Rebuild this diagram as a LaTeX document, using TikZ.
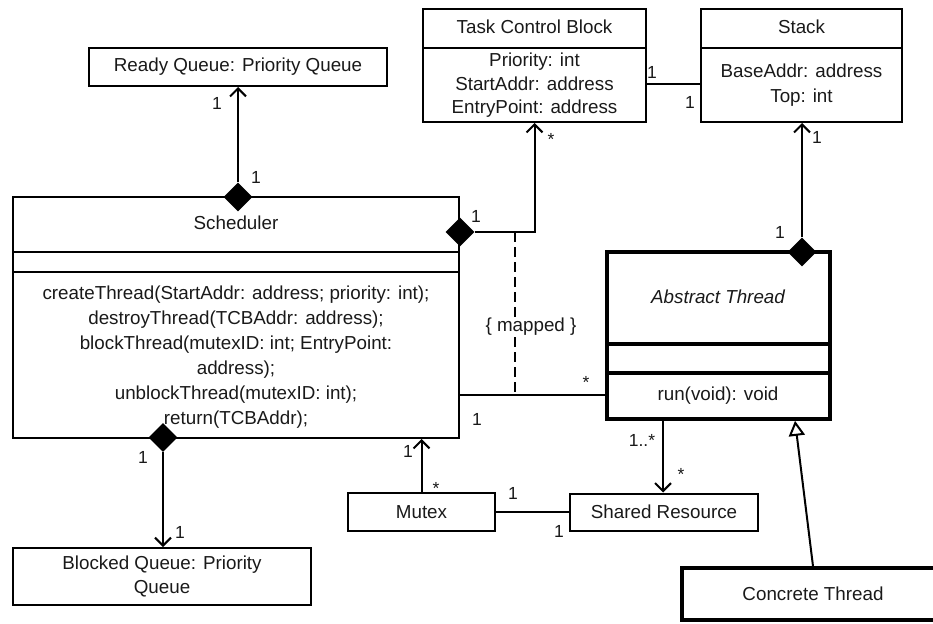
\documentclass[tikz,border=0pt]{standalone}
\usepackage{fontspec}
\setmainfont{Liberation Sans}
\usetikzlibrary{arrows.meta,shapes.geometric,calc}
\begin{document}
\begin{tikzpicture}[x=1pt,y=-1pt,
  every node/.style={text=black!90, font={\fontsize{18.8}{24.9}\selectfont}},
  cls/.style={draw=black, line width=2pt, rectangle, inner sep=0pt},
  thk/.style={line width=3.6pt},
  txt/.style={inner sep=0pt, align=center},
  lbl/.style={inner sep=0pt, font={\fontsize{17.5}{20}\selectfont}},
  dmd/.style={diamond, fill=black, draw=none, inner sep=0pt, minimum width=29pt, minimum height=29pt},
  assoc/.style={line width=2pt, draw=black},
  nav/.style={assoc, -{Straight Barb[length=8pt,width=16pt]}},
  gen/.style={assoc, -{Triangle[open,length=15pt,width=16pt,fill=white]}},
  dep/.style={line width=1.8pt, draw=black, dash pattern=on 10pt off 5pt}
]
\useasboundingbox (0,0) rectangle (933,623);

% helper coordinates
\path (0,252) coordinate (s1) (0,272) coordinate (s2)
      (0,344) coordinate (a1) (0,373) coordinate (a2)
      (0,48) coordinate (t1) (0,84) coordinate (t2)
      (0,395) coordinate (h1)
      (663,0) coordinate (v1) (795,0) coordinate (v2);

% Ready queue
\node[cls, minimum width=298pt, minimum height=38pt] (rq) at (238,67) {Ready Queue: Priority Queue};

% Scheduler
\node[cls, minimum width=446pt, minimum height=241pt] (sch) at (236,317.5) {};
\draw[assoc] (sch.west |- s1) -- (sch.east |- s1);
\draw[assoc] (sch.west |- s2) -- (sch.east |- s2);
\node[txt] (schT) at (236,223) {Scheduler};
\node[txt] (schM) at (236,357) {createThread(StartAddr: address; priority: int);\\
destroyThread(TCBAddr: address);\\
blockThread(mutexID: int; EntryPoint:\\
address);\\
unblockThread(mutexID: int);\\
return(TCBAddr);};

% Blocked queue
\node[cls, minimum width=298pt, minimum height=57pt, align=center] (bq) at (162,576.5) {Blocked Queue: Priority\\Queue};

% Mutex, Shared Resource
\node[cls, minimum width=147pt, minimum height=38pt] (mx) at (421.5,512) {Mutex};
\node[cls, minimum width=188pt, minimum height=37pt] (sr) at (664,512) {Shared Resource};

% Task Control Block
\node[cls, minimum width=223pt, minimum height=113pt] (tcb) at (534.5,65.5) {};
\draw[assoc] (tcb.west |- t1) -- (tcb.east |- t1);
\node[txt] (tcbT) at (534.5,27) {Task Control Block};
\node[txt, font={\fontsize{18.8}{23.5}\selectfont}] (tcbA) at (534.5,85.5) {Priority: int\\StartAddr: address\\EntryPoint: address};

% Stack
\node[cls, minimum width=201pt, minimum height=113pt] (stk) at (801.5,65.5) {};
\draw[assoc] (stk.west |- t1) -- (stk.east |- t1);
\node[txt] (stkT) at (801.5,27) {Stack};
\node[txt, font={\fontsize{18.8}{25}\selectfont}] (stkA) at (801.5,85.5) {BaseAddr: address\\Top: int};

% Abstract Thread
\node[cls, thk, minimum width=223pt, minimum height=167pt] (at) at (718.5,335.5) {};
\draw[assoc, thk] (at.west |- a1) -- (at.east |- a1);
\draw[assoc, thk] (at.west |- a2) -- (at.east |- a2);
\node[txt, font={\fontsize{18.8}{24.9}\selectfont\itshape}] (atT) at (718,297) {Abstract Thread};
\node[txt] (atM) at (718,396) {run(void): void};

% Concrete Thread
\node[cls, thk, minimum width=262pt, minimum height=52pt] (ct) at (813,594) {Concrete Thread};

% diamonds
\node[dmd] (d1) at (238,197) {};
\node[dmd] (d2) at (163,437.5) {};
\node[dmd] (d3) at (460,232) {};
\node[dmd] (d4) at (802,252) {};

% connectors
\draw[nav] (d1.north) -- (rq.south);
\draw[nav] (d2.south) -- (d2.south |- bq.north);
\draw[nav] (d3.east) -| (tcb.south);
\draw[nav] (d4.north) -- (d4.north |- stk.south);
\draw[assoc] (tcb.east |- t2) -- (stk.west |- t2);
\draw[assoc] (sch.east |- h1) -- (at.west |- h1);
\draw[nav] (mx.north) -- (mx.north |- sch.south);
\draw[assoc] (mx.east) -- (sr.west);
\draw[nav] (at.south -| v1) -- (sr.north -| v1);
\draw[gen] (ct.north) -- (at.south -| v2);

\coordinate (m1) at (515,232);
\coordinate (m2) at (515,395);
\draw[dep] (m1) -- (m2);
\node[txt, fill=white, inner sep=1pt] (mp) at (531,327) {\{ mapped \}};

% multiplicities
\node[lbl] (l1) at (217,103) {1};
\node[lbl] (l2) at (256,177) {1};
\node[lbl] (l3) at (143,457) {1};
\node[lbl] (l4) at (180,532) {1};
\node[lbl] (l5) at (476,216) {1};
\node[lbl] (l6) at (551,139) {*};
\node[lbl] (l7) at (652,72) {1};
\node[lbl] (l8) at (690,102) {1};
\node[lbl] (l9) at (817,137) {1};
\node[lbl] (l10) at (780,232) {1};
\node[lbl] (l11) at (586,382) {*};
\node[lbl] (l12) at (477,419) {1};
\node[lbl] (l13) at (408,451) {1};
\node[lbl] (l14) at (436,488) {*};
\node[lbl] (l15) at (513,493) {1};
\node[lbl] (l16) at (559,531) {1};
\node[lbl] (l17) at (642,440) {1..*};
\node[lbl] (l18) at (681,474) {*};
\end{tikzpicture}
\end{document}
